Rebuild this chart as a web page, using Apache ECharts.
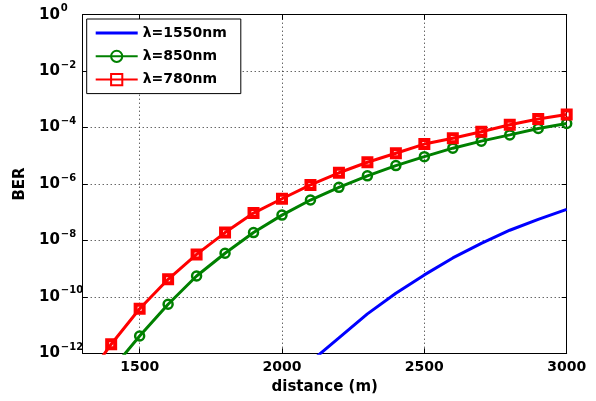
<!DOCTYPE html>
<html>
<head>
<meta charset="utf-8">
<script src="https://cdn.jsdelivr.net/npm/echarts@6/dist/echarts.min.js"></script>
<style>html,body{margin:0;padding:0;background:#fff;}#c{width:596px;height:401px;}</style>
</head>
<body>
<div id="c"></div>
<script>
// Data (BER vs distance in metres)
var distance = [1300,1400,1500,1600,1700,1800,1900,2000,2100,2200,2300,2400,2500,2600,2700,2800,2900,3000];
var ber1550 = [null,null,null,null,null,null,null,null,5e-13,3.5e-12,2.5e-11,1.35e-10,6.0e-10,2.4e-9,7.9e-9,2.3e-8,5.6e-8,1.26e-7];
var ber850  = [null,2.5e-13,4.1e-12,5.5e-11,5.5e-10,3.5e-9,1.9e-8,7.9e-8,2.7e-7,7.6e-7,1.95e-6,4.5e-6,9.3e-6,1.86e-5,3.3e-5,5.5e-5,9.3e-5,1.4e-4];
var ber780  = [8e-14,2.1e-12,3.8e-11,4.2e-10,3.2e-9,1.9e-8,9.3e-8,3.0e-7,9.3e-7,2.5e-6,5.9e-6,1.23e-5,2.6e-5,4.2e-5,7.1e-5,1.26e-4,2.0e-4,2.9e-4];
var seriesNames = ['\u03bb=1550nm','\u03bb=850nm','\u03bb=780nm'];
var xTicks = [1500,2000,2500,3000];
var yTicks = [1e-12,1e-10,1e-8,1e-6,1e-4,1e-2,1];

function pairs(ys){ var out=[]; for (var i=0;i<distance.length;i++){ if (ys[i]!=null) out.push([distance[i], ys[i]]); } return out; }

var FONT = 'DejaVu Sans';
var lineOnlyIcon = 'path://M0,0L0.01,0L0.01,0.01L0,0.01Z M0,5.5L42,5.5L42,8.5L0,8.5Z M41.99,13.99L42,13.99L42,14L41.99,14Z';
var chart = echarts.init(document.getElementById('c'), null, {renderer:'canvas'});
var gridLine = {show:true, lineStyle:{color:'#222', width:1, type:[1,3]}};
var option = {
  backgroundColor:'#fff',
  animation:false,
  grid:{left:82.7, top:14.7, right:29.3, bottom:47.7, containLabel:false},
  legend:{
    left:86.7, top:19, orient:'vertical',
    backgroundColor:'#fff', borderColor:'#000', borderWidth:1, borderRadius:0,
    padding:[7,14,7,8], itemWidth:42, itemHeight:14, itemGap:9.3,
    textStyle:{fontFamily:FONT, fontWeight:'bold', fontSize:14, color:'#000'},
    data:[{name:seriesNames[0], icon:lineOnlyIcon, itemStyle:{color:'#0000ff'}}, seriesNames[1], seriesNames[2]]
  },
  xAxis:[{
    type:'value', min:1300, max:3000,
    name:'distance (m)', nameLocation:'middle', nameGap:24,
    nameTextStyle:{fontFamily:FONT, fontWeight:'bold', fontSize:15, color:'#000'},
    axisLine:{show:true, onZero:false, lineStyle:{color:'#000', width:1}},
    axisTick:{show:true, inside:true, length:5, customValues:xTicks, lineStyle:{color:'#000'}},
    axisLabel:{customValues:xTicks, margin:7, fontFamily:FONT, fontWeight:'bold', fontSize:14, color:'#000',
      formatter:function(v){ return String(v); }},
    splitLine:gridLine
  },{
    type:'value', min:1300, max:3000, position:'top',
    axisLine:{show:true, onZero:false, lineStyle:{color:'#000', width:1}},
    axisTick:{show:true, inside:true, length:5, customValues:xTicks, lineStyle:{color:'#000'}},
    axisLabel:{show:false}, splitLine:{show:false}
  }],
  yAxis:[{
    type:'log', logBase:10, min:1e-12, max:1,
    name:'BER', nameLocation:'middle', nameGap:54, nameRotate:90,
    nameTextStyle:{fontFamily:FONT, fontWeight:'bold', fontSize:15, color:'#000'},
    axisLine:{show:true, onZero:false, lineStyle:{color:'#000', width:1}},
    axisTick:{show:true, inside:true, length:5, customValues:yTicks, lineStyle:{color:'#000'}},
    minorTick:{show:false},
    axisLabel:{
      customValues:yTicks,
      align:'left', margin:43.7, color:'#000',
      formatter:function(v){
        var e = Math.round(Math.log10(v));
        var s = e===0 ? '0' : '\u2212' + (-e);
        return '{b|10}{s|' + s + '}';
      },
      rich:{
        b:{fontFamily:FONT, fontWeight:'bold', fontSize:15, lineHeight:24, color:'#000'},
        s:{fontFamily:FONT, fontWeight:'bold', fontSize:10, verticalAlign:'top', padding:[1,0,0,1], color:'#000'}
      }
    },
    splitLine:gridLine
  },{
    type:'log', logBase:10, min:1e-12, max:1, position:'right',
    axisLine:{show:true, onZero:false, lineStyle:{color:'#000', width:1}},
    axisTick:{show:true, inside:true, length:5, customValues:yTicks, lineStyle:{color:'#000'}},
    axisLabel:{show:false}, splitLine:{show:false}
  }],
  series:[
    {name:seriesNames[0], type:'line', data:pairs(ber1550), showSymbol:false, symbol:'none',
     lineStyle:{color:'#0000ff', width:3}, itemStyle:{color:'#0000ff'}, clip:true, z:2},
    {name:seriesNames[1], type:'line', data:pairs(ber850), symbol:'circle', symbolSize:9,
     lineStyle:{color:'#008000', width:3},
     itemStyle:{color:'rgba(255,255,255,0)', borderColor:'#008000', borderWidth:2.5}, clip:true, z:3},
    {name:seriesNames[2], type:'line', data:pairs(ber780), symbol:'rect', symbolSize:8,
     lineStyle:{color:'#ff0000', width:3},
     itemStyle:{color:'rgba(255,255,255,0)', borderColor:'#ff0000', borderWidth:4}, clip:true, z:4}
  ]
};
chart.setOption(option);
</script>
</body>
</html>
